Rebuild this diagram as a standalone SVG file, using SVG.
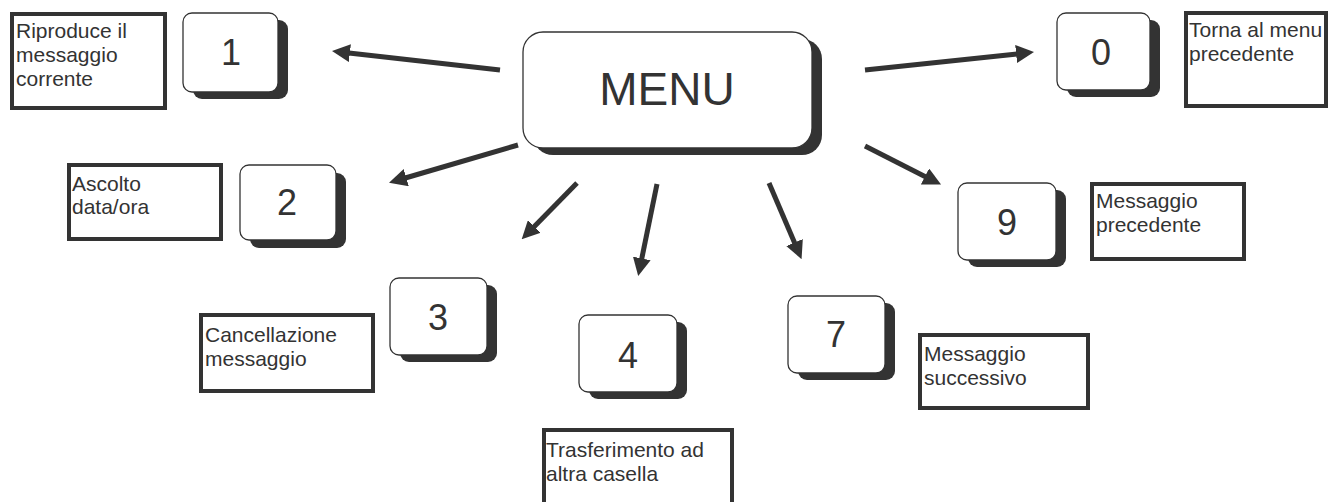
<svg xmlns="http://www.w3.org/2000/svg" width="1330" height="502" viewBox="0 0 1330 502">
  <style>
    .key { fill: #ffffff; stroke: #333333; stroke-width: 1.3; }
    .shadow { fill: #333333; }
    .digit { font-family: "Liberation Sans", Arial, sans-serif; font-size: 36px; fill: #333333; text-anchor: middle; }
    .title { font-family: "Liberation Sans", Arial, sans-serif; font-size: 46px; fill: #333333; text-anchor: middle; }
    .note { fill: #ffffff; stroke: #333333; stroke-width: 4; }
    .label { font-family: "Liberation Sans", Arial, sans-serif; font-size: 21px; fill: #333333; }
    .arrow { stroke: #333333; stroke-width: 5; fill: none; marker-end: url(#head); }
  </style>
  <defs>
    <marker id="head" viewBox="0 0 18 18" markerUnits="userSpaceOnUse" markerWidth="18" markerHeight="18" refX="1" refY="9" orient="auto">
      <path d="M0,0 L18,9 L0,18 z" fill="#333333"/>
    </marker>
  </defs>
  <rect width="1330" height="502" fill="#ffffff"/>

  <!-- connectors from the menu to each key -->
  <g id="connectors">
    <line class="arrow" x1="500" y1="70" x2="348.9" y2="53"/>
    <line class="arrow" x1="865" y1="70" x2="1017.1" y2="53.9"/>
    <line class="arrow" x1="518" y1="145" x2="405.3" y2="178"/>
    <line class="arrow" x1="577" y1="183" x2="533.6" y2="227.2"/>
    <line class="arrow" x1="657" y1="184" x2="641.6" y2="259.4"/>
    <line class="arrow" x1="769" y1="183" x2="794.9" y2="243.5"/>
    <line class="arrow" x1="865" y1="146" x2="925.9" y2="176.9"/>
  </g>

  <g id="menu">
    <rect class="shadow" x="533" y="39" width="289" height="116" rx="20"/>
    <rect class="key" x="523" y="32" width="289" height="116" rx="20"/>
    <text class="title" x="667" y="105">MENU</text>
  </g>

  <g id="key-1">
    <rect class="shadow" x="193" y="20" width="95" height="79" rx="9"/>
    <rect class="key" x="183" y="13" width="95" height="79" rx="9"/>
    <text class="digit" x="231" y="65">1</text>
  </g>
  <g id="note-1">
    <rect class="note" x="12" y="14" width="153" height="94"/>
    <text class="label" x="16" y="38">Riproduce il</text>
    <text class="label" x="16" y="62">messaggio</text>
    <text class="label" x="16" y="86">corrente</text>
  </g>

  <g id="key-0">
    <rect class="shadow" x="1067" y="20" width="93" height="77" rx="9"/>
    <rect class="key" x="1057" y="13" width="93" height="77" rx="9"/>
    <text class="digit" x="1101" y="65">0</text>
  </g>
  <g id="note-0">
    <rect class="note" x="1186" y="13" width="140" height="93"/>
    <text class="label" x="1189" y="37">Torna al menu</text>
    <text class="label" x="1189" y="61">precedente</text>
  </g>

  <g id="key-2">
    <rect class="shadow" x="250" y="173" width="96" height="75" rx="9"/>
    <rect class="key" x="240" y="165" width="96" height="75" rx="9"/>
    <text class="digit" x="287" y="215">2</text>
  </g>
  <g id="note-2">
    <rect class="note" x="69" y="165" width="152" height="74"/>
    <text class="label" x="72" y="191">Ascolto</text>
    <text class="label" x="72" y="214">data/ora</text>
  </g>

  <g id="key-9">
    <rect class="shadow" x="968" y="190" width="98" height="77" rx="9"/>
    <rect class="key" x="958" y="183" width="98" height="77" rx="9"/>
    <text class="digit" x="1007" y="235">9</text>
  </g>
  <g id="note-9">
    <rect class="note" x="1092" y="184" width="152" height="75"/>
    <text class="label" x="1096" y="208">Messaggio</text>
    <text class="label" x="1096" y="232">precedente</text>
  </g>

  <g id="key-3">
    <rect class="shadow" x="400" y="285" width="97" height="77" rx="9"/>
    <rect class="key" x="390" y="278" width="97" height="77" rx="9"/>
    <text class="digit" x="438" y="330">3</text>
  </g>
  <g id="note-3">
    <rect class="note" x="201" y="315" width="172" height="76"/>
    <text class="label" x="205" y="342">Cancellazione</text>
    <text class="label" x="205" y="366">messaggio</text>
  </g>

  <g id="key-4">
    <rect class="shadow" x="589" y="322" width="98" height="77" rx="9"/>
    <rect class="key" x="579" y="315" width="98" height="77" rx="9"/>
    <text class="digit" x="628" y="368">4</text>
  </g>
  <g id="note-4">
    <rect class="note" x="544" y="430" width="188" height="80"/>
    <text class="label" x="546" y="457">Trasferimento ad</text>
    <text class="label" x="546" y="481">altra casella</text>
  </g>

  <g id="key-7">
    <rect class="shadow" x="798" y="303" width="97" height="77" rx="9"/>
    <rect class="key" x="788" y="296" width="97" height="77" rx="9"/>
    <text class="digit" x="836" y="347">7</text>
  </g>
  <g id="note-7">
    <rect class="note" x="920" y="335" width="168" height="73"/>
    <text class="label" x="924" y="361">Messaggio</text>
    <text class="label" x="924" y="385">successivo</text>
  </g>
</svg>
